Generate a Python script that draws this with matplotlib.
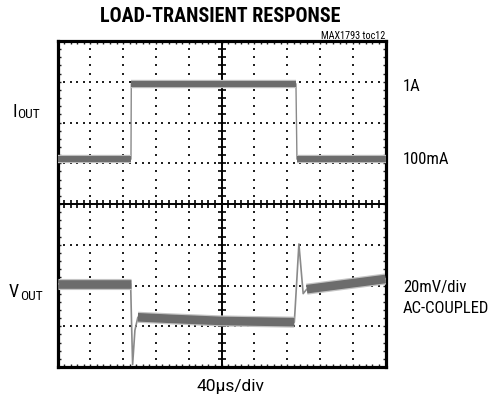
import matplotlib
matplotlib.use("Agg")
import matplotlib.pyplot as plt
from matplotlib.ticker import MultipleLocator
from matplotlib import font_manager
import numpy as np

# ---- data (in screen divisions: x 0..10, y 0..8) ----
time_iout = [0.0, 2.24, 2.25, 7.27, 7.30, 10.0]
iout_div = [5.10, 5.10, 6.95, 6.95, 5.10, 5.10]

time_vout = [0.0, 2.23, 2.26, 2.29, 2.36, 2.45, 3.5, 5.0, 7.22, 7.25, 7.36, 7.49, 7.6, 10.0]
vout_div = [2.04, 2.04, 1.00, 0.06, 0.90, 1.22, 1.18, 1.13, 1.10, 1.50, 3.02, 1.80, 1.91, 2.16]

title = "LOAD-TRANSIENT RESPONSE"
tag = "MAX1793 toc12"
right_labels = ["1A", "100mA", "20mV/div", "AC-COUPLED"]
x_label = "40\u03bcs/div"

W, H = 493, 402
fig = plt.figure(figsize=(W / 100, H / 100), dpi=100)
ax = fig.add_axes([57.5 / W, 1 - 368 / H, 328 / W, 326 / H])
ax.set_xlim(0, 10)
ax.set_ylim(0, 8)

installed = {f.name for f in font_manager.fontManager.ttflist}
fam = [f for f in ["Roboto Condensed", "Liberation Sans Narrow", "Roboto", "DejaVu Sans"] if f in installed]
fam_wide = [f for f in ["Roboto", "DejaVu Sans"] if f in installed]

# frame
for s in ax.spines.values():
    s.set_linewidth(2.3)
ax.xaxis.set_major_locator(MultipleLocator(1))
ax.yaxis.set_major_locator(MultipleLocator(1))
ax.xaxis.set_minor_locator(MultipleLocator(0.2))
ax.yaxis.set_minor_locator(MultipleLocator(0.2))
ax.tick_params(which="both", direction="in", top=True, right=True, length=2.2, width=1.0,
               labelleft=False, labelbottom=False, color="#222222")

# dotted graticule
fine_x = np.arange(1, 50) * 0.2
fine_y = np.arange(1, 40) * 0.2
for gx in range(1, 10):
    if gx == 5:
        continue
    ax.plot(np.full_like(fine_y, gx), fine_y, "s", ms=1.5, color="#222222", mew=0, zorder=2)
for gy in range(1, 8):
    if gy == 4:
        continue
    ax.plot(fine_x, np.full_like(fine_x, gy), "s", ms=1.5, color="#222222", mew=0, zorder=2)

# center crosshair with ticks
ax.axhline(4, color="black", lw=1.4, zorder=3)
ax.axvline(5, color="black", lw=1.4, zorder=3)
ax.plot(fine_x, np.full_like(fine_x, 4), "|", ms=5.5, mew=1.2, color="black", zorder=3)
ax.plot(np.full_like(fine_y, 5), fine_y, "_", ms=5.5, mew=1.2, color="black", zorder=3)

# traces
band = "#6c6c6c"
ax.plot(time_iout, iout_div, color="#8a8a8a", lw=1.0, zorder=4)
for a, b in [(0, 2), (2, 4), (4, 6)]:
    ax.plot(time_iout[a:b], iout_div[a:b], color="#bdbdbd", lw=6.0, zorder=4, solid_capstyle="butt")
    ax.plot(time_iout[a:b], iout_div[a:b], color=band, lw=4.3, zorder=5, solid_capstyle="butt")

ax.plot(time_vout, vout_div, color="#8a8a8a", lw=1.2, zorder=4)
for a, b in [(0, 2), (5, 9), (12, 14)]:
    ax.plot(time_vout[a:b], vout_div[a:b], color="#c4c4c4", lw=8.0, zorder=4, solid_capstyle="butt")
    ax.plot(time_vout[a:b], vout_div[a:b], color=band, lw=6.2, zorder=5, solid_capstyle="butt")


def fx(px):
    return px / W


def fy(py):
    return 1 - py / H


fig.text(fx(220), fy(17), title, family=fam, fontweight="bold", fontsize=14.5,
         ha="center", va="center")
fig.text(fx(385), fy(36), tag, family=fam, fontsize=7.3, ha="right", va="center")

# left labels
fig.text(fx(12.5), fy(117), "I", family=fam, fontsize=13, ha="left", va="baseline")
fig.text(fx(17), fy(118), "OUT", family=fam, fontsize=9.7, ha="left", va="baseline")
fig.text(fx(9), fy(297), "V", family=fam, fontsize=13, ha="left", va="baseline")
fig.text(fx(20.5), fy(300), "OUT", family=fam, fontsize=9.7, ha="left", va="baseline")

# right labels
fs = 12
fig.text(fx(403), fy(87), right_labels[0], family=fam, fontsize=fs, ha="left", va="center")
fig.text(fx(403), fy(160), right_labels[1], family=fam, fontsize=fs, ha="left", va="center")
fig.text(fx(403), fy(288), right_labels[2], family=fam, fontsize=fs, ha="left", va="center")
fig.text(fx(403), fy(309), right_labels[3], family=fam, fontsize=fs, ha="left", va="center")

fig.text(fx(230), fy(387), x_label, family=fam_wide, fontsize=12.5, ha="center", va="center")

fig.savefig("out.png", dpi=100)
